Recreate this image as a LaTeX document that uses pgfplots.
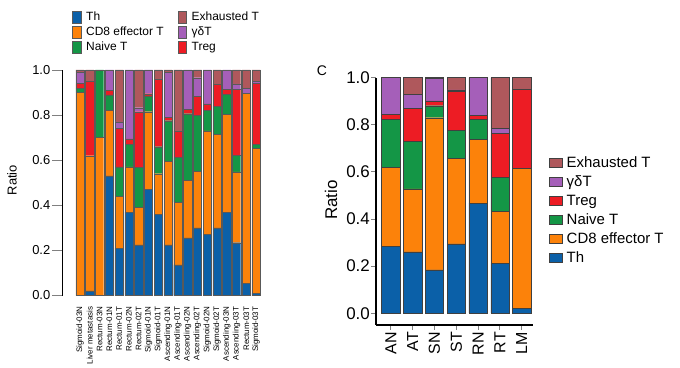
\documentclass[border=0pt]{standalone}
\usepackage{pgfplots}
\pgfplotsset{compat=1.18}
\usepackage{pgfplotstable}
\usepackage{fontspec}
\setmainfont{Liberation Sans}
\definecolor{cTh}{RGB}{11,96,168}
\definecolor{cCD}{RGB}{252,130,10}
\definecolor{cNa}{RGB}{20,150,70}
\definecolor{cTr}{RGB}{237,28,36}
\definecolor{cGd}{RGB}{165,95,185}
\definecolor{cEx}{RGB}{175,88,92}
\pgfplotstableread{
x Th CD8 Naive Treg gd Exh
0 0 0.90 0.02 0.02 0.05 0.01
1 0.02 0.60 0 0.33 0 0.05
2 0 0.70 0.30 0 0 0
3 0.53 0.29 0.07 0.02 0.09 0
4 0.21 0.23 0.13 0.17 0.03 0.23
5 0.37 0.20 0.10 0.025 0.305 0
6 0.225 0.166 0.176 0.248 0.018 0.167
7 0.47 0.345 0.07 0.01 0.105 0
8 0.36 0.18 0.12 0.30 0 0.04
9 0.225 0.37 0.18 0.015 0.20 0.01
10 0.136 0.277 0.199 0.117 0 0.271
11 0.256 0.255 0.295 0.019 0.175 0
12 0.30 0.25 0.25 0.083 0.083 0.034
13 0.27 0.46 0.09 0.03 0.15 0
14 0.30 0.415 0.125 0.097 0 0.063
15 0.37 0.434 0.089 0.021 0.086 0
16 0.234 0.314 0.074 0.292 0.024 0.062
17 0.055 0.841 0 0 0.023 0.081
18 0.01 0.642 0.018 0.271 0.01 0.049
}\lefttab
\pgfplotstableread{
x Th CD8 Naive Treg gd Exh
0 0.283 0.335 0.205 0.022 0.155 0
1 0.261 0.267 0.203 0.139 0.06 0.07
2 0.184 0.646 0.051 0.021 0.095 0.003
3 0.294 0.364 0.117 0.166 0.007 0.052
4 0.467 0.271 0.085 0.016 0.161 0
5 0.212 0.222 0.142 0.188 0.021 0.215
6 0.021 0.594 0 0.335 0 0.05
}\righttab
\begin{document}
\begin{tikzpicture}
\useasboundingbox (0,0) rectangle (680bp,368bp);
% ---------- left chart ----------
\begin{axis}[
  at={(62bp,72.5bp)}, anchor=south west,
  scale only axis, width=200bp, height=225.5bp,
  xmin=-1.84, xmax=18.6, ymin=0, ymax=1,
  ybar stacked, bar width=8.3bp,
  axis lines*=left, axis line style={-, line width=0.8bp},
  x axis line style={draw=none},
  xtick={0,...,18},
  xticklabels={Sigmoid-03N,Liver metastasis,Rectum-03N,Rectum-01N,Rectum-01T,Rectum-02N,Rectum-02T,Sigmoid-01N,Sigmoid-01T,Ascending-01N,Ascending-01T,Ascending-02N,Ascending-02T,Sigmoid-02N,Sigmoid-02T,Ascending-03N,Ascending-03T,Rectum-03T,Sigmoid-03T},
  x tick label style={rotate=90, anchor=east, font=\fontsize{8}{9}\selectfont, inner sep=1bp},
  xtick style={draw=none},
  ytick={0,0.2,0.4,0.6,0.8,1},
  y tick label style={/pgf/number format/fixed, /pgf/number format/fixed zerofill, /pgf/number format/precision=1, font=\fontsize{13}{15}\selectfont, inner sep=1.5bp},
  /pgf/number format/assume math mode=true,
  ytick style={line width=0.8bp}, tick align=outside, major tick length=10bp,
  every axis y label/.style={at={(axis description cs:-0.25,0.512)}, rotate=90, anchor=center, font=\fontsize{13}{15}\selectfont},
  ylabel={Ratio},
  every axis plot/.append style={draw=black!65, line width=0.3bp},
  legend columns=3, transpose legend,
  legend style={at={(axis description cs:0.05,1.262)}, anchor=north west, draw=none, fill=none,
    font=\fontsize{12}{13}\selectfont, row sep=1.8bp, inner sep=0bp,
    nodes={inner sep=1bp, text height=8.5bp, text depth=2.5bp},
    /tikz/every odd column/.append style={column sep=4bp},
    /tikz/every even column/.append style={column sep=13bp}},
  legend cell align=left,
  legend image code/.code={\draw[#1, draw=black!65, line width=0.5bp] (0bp,-6bp) rectangle (8.5bp,6bp);},
]
\addplot[fill=cTh, forget plot] table[x=x,y=Th]{\lefttab};
\addplot[fill=cCD, forget plot] table[x=x,y=CD8]{\lefttab};
\addplot[fill=cNa, forget plot] table[x=x,y=Naive]{\lefttab};
\addplot[fill=cTr, forget plot] table[x=x,y=Treg]{\lefttab};
\addplot[fill=cGd, forget plot] table[x=x,y=gd]{\lefttab};
\addplot[fill=cEx, forget plot] table[x=x,y=Exh]{\lefttab};
\addlegendimage{fill=cTh}\addlegendentry{Th}
\addlegendimage{fill=cCD}\addlegendentry{CD8 effector T}
\addlegendimage{fill=cNa}\addlegendentry{Naive T}
\addlegendimage{fill=cEx}\addlegendentry{Exhausted T}
\addlegendimage{fill=cGd}\addlegendentry{γδT}
\addlegendimage{fill=cTr}\addlegendentry{Treg}
\end{axis}
% ---------- right chart ----------
\begin{axis}[
  at={(376bp,43bp)}, anchor=south west,
  scale only axis, width=157.3bp, height=247.3bp,
  xmin=-0.68, xmax=6.53, ymin=-0.05, ymax=1,
  ybar stacked, bar width=18.3bp,
  axis lines*=left, axis line style={-, line width=1.2bp},
  xtick={0,...,6},
  xticklabels={AN,AT,SN,ST,RN,RT,LM},
  x tick label style={rotate=90, anchor=east, font=\fontsize{16}{18}\selectfont, inner sep=2bp},
  ytick={0,0.2,0.4,0.6,0.8,1},
  y tick label style={/pgf/number format/fixed, /pgf/number format/fixed zerofill, /pgf/number format/precision=1, font=\fontsize{17}{19}\selectfont, inner sep=1bp},
  /pgf/number format/assume math mode=true,
  tick style={line width=1bp}, tick align=outside, major tick length=5bp,
  every axis y label/.style={at={(axis description cs:-0.286,0.505)}, rotate=90, anchor=center, font=\fontsize{17}{19}\selectfont},
  ylabel={Ratio},
  every axis plot/.append style={draw=black!75, line width=0.4bp},
  reverse legend,
  legend style={at={(axis description cs:1.10,0.688)}, anchor=north west, draw=none, fill=none,
    font=\fontsize{15}{17}\selectfont, row sep=3bp, inner sep=0bp,
    nodes={inner sep=1bp, text height=11bp, text depth=3bp},
    /tikz/every odd column/.append style={column sep=3bp}},
  legend cell align=left,
  legend image code/.code={\draw[#1, draw=black!75, line width=0.5bp] (0bp,-4.5bp) rectangle (13bp,4.5bp);},
]
\addplot[fill=cTh] table[x=x,y=Th]{\righttab};
\addplot[fill=cCD] table[x=x,y=CD8]{\righttab};
\addplot[fill=cNa] table[x=x,y=Naive]{\righttab};
\addplot[fill=cTr] table[x=x,y=Treg]{\righttab};
\addplot[fill=cGd] table[x=x,y=gd]{\righttab};
\addplot[fill=cEx] table[x=x,y=Exh]{\righttab};
\legend{Th,CD8 effector T,Naive T,Treg,γδT,Exhausted T}
\end{axis}
\node[font=\fontsize{14}{16}\selectfont] at (322bp,297bp) {C};
\end{tikzpicture}
\end{document}
